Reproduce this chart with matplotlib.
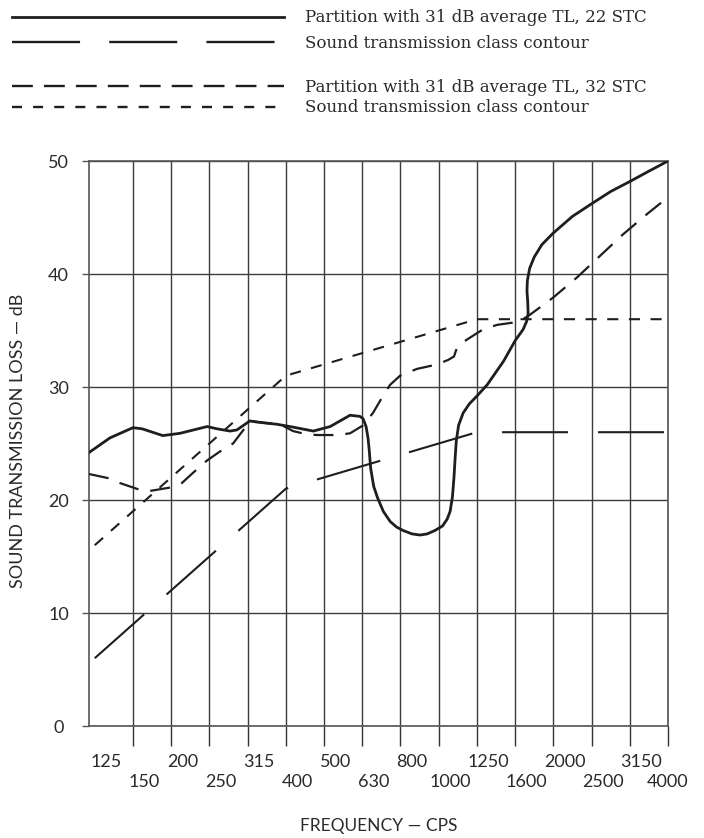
import matplotlib
matplotlib.use("Agg")
import matplotlib.pyplot as plt
from matplotlib.lines import Line2D

# 1/3-octave bands (old style labels), plotted at equal spacing
bands = ["125", "150", "200", "250", "315", "400", "500", "630",
         "800", "1000", "1250", "1600", "2000", "2500", "3150", "4000"]

# STC reference contours, dB per band
stc22 = [6, 9, 12, 15, 18, 21, 22, 23, 24, 25, 26, 26, 26, 26, 26, 26]
stc32 = [16, 19, 22, 25, 28, 31, 32, 33, 34, 35, 36, 36, 36, 36, 36, 36]

p22_x = [-0.15, 0.4, 1.0, 1.24, 1.78, 2.23, 2.94, 3.2, 3.54, 3.72, 4.06, 4.24,
         4.77, 5.11, 5.72, 6.16, 6.68, 6.94, 7.02, 7.1, 7.15, 7.18, 7.22, 7.3,
         7.4, 7.55, 7.73, 7.9, 8.07, 8.3, 8.51, 8.7, 8.9, 9.1, 9.22, 9.3,
         9.36, 9.4, 9.43, 9.46, 9.52, 9.64, 9.8, 10.0, 10.27, 10.7, 11.0, 11.21,
         11.3, 11.34, 11.33, 11.31, 11.32, 11.38, 11.5, 11.7, 11.99, 12.5, 13.04,
         13.5, 14.01, 14.5, 15.0]
p22_y = [24.2, 25.5, 26.4, 26.3, 25.7, 25.9, 26.5, 26.3, 26.1, 26.2, 27.0, 26.9,
         26.7, 26.5, 26.1, 26.5, 27.5, 27.4, 27.2, 26.5, 25.5, 24.5, 22.8, 21.2,
         20.2, 19.0, 18.1, 17.6, 17.3, 17.0, 16.9, 17.0, 17.3, 17.7, 18.3, 19.0,
         20.3, 22.0, 23.7, 25.2, 26.6, 27.7, 28.5, 29.2, 30.2, 32.3, 34.1, 35.1,
         35.8, 36.5, 37.5, 38.5, 39.4, 40.5, 41.5, 42.6, 43.6, 45.1, 46.3,
         47.3, 48.2, 49.1, 50.0]

p32_x = [-0.15, 0.4, 0.66, 1.18, 1.44, 1.97, 2.28, 2.57, 2.94, 3.28, 3.62, 3.98,
         4.06, 4.5, 4.85, 5.19, 5.56, 5.84, 6.34, 6.68, 7.02, 7.28, 7.54, 7.73,
         7.99, 8.43, 8.96, 9.25, 9.4, 9.45, 9.5, 9.74, 10.16, 10.53, 10.95, 11.31,
         11.99, 12.62, 13.22, 13.82, 14.45, 15.0]
p32_y = [22.3, 21.9, 21.5, 20.9, 20.8, 21.1, 21.5, 22.4, 23.5, 24.3, 25.0, 26.6,
         27.0, 26.8, 26.7, 26.1, 25.8, 25.75, 25.75, 25.9, 26.6, 27.7, 29.2, 30.2,
         31.0, 31.6, 32.0, 32.4, 32.7, 33.2, 33.6, 34.2, 35.1, 35.5, 35.7, 36.2,
         37.9, 39.7, 41.6, 43.5, 45.3, 46.8]

legend_labels = ["Partition with 31 dB average TL, 22 STC",
                 "Sound transmission class contour",
                 "Partition with 31 dB average TL, 32 STC",
                 "Sound transmission class contour"]

plt.rcParams['lines.scale_dashes'] = False
sans = ['Lato', 'DejaVu Sans']
serif = ['DejaVu Serif']

W, H = 704, 838
fig = plt.figure(figsize=(W / 100, H / 100), dpi=100)
ax = fig.add_axes([89 / W, 1 - 726 / H, (668 - 89) / W, (726 - 161) / H])

ink = '#1e1e1e'
txt = '#2a2a2a'
long_dash = (0, (47.5, 21.6))
med_dash = (0, (14.4, 8.6))
short_dash = (0, (8.0, 7.6))

idx = list(range(len(bands)))
ax.plot(p22_x, p22_y, color=ink, lw=2.0, solid_joinstyle='round', zorder=4)
ax.plot(idx, stc22, color=ink, lw=1.5, linestyle=long_dash, zorder=3)
ax.plot(p32_x, p32_y, color=ink, lw=1.6, linestyle=med_dash, zorder=3)
ax.plot(idx, stc32, color=ink, lw=1.5, linestyle=short_dash, zorder=3)

ax.set_xlim(-0.15, 15)
ax.set_ylim(0, 50)

ax.set_xticks(range(1, 16))
ax.set_xticklabels([])
ax.set_yticks(range(0, 51, 10))
ax.tick_params(axis='x', direction='out', length=14.5, width=1.0, color='#333333')
ax.tick_params(axis='y', direction='out', length=5, width=1.0, color='#555555',
               pad=17, labelsize=13)
for lab in ax.get_yticklabels():
    lab.set_horizontalalignment('center')
    lab.set_family(sans)
    lab.set_color(txt)

ax.grid(True, color='#3c3c3c', lw=1.0)
ax.set_axisbelow(True)
for s in ax.spines.values():
    s.set_color('#555555')
    s.set_linewidth(1.2)

# staggered band labels
for i, b in enumerate(bands):
    dy = -26 if i % 2 == 0 else -40.5
    ax.annotate(b, xy=(min(i + 0.3, 15), 0), xycoords=('data', 'axes fraction'),
                xytext=(0, dy), textcoords='offset points', ha='center', va='center',
                fontsize=13, family=sans, color=txt)

ax.annotate("FREQUENCY — CPS", xy=(0.5, 0), xycoords='axes fraction',
            xytext=(0, -72), textcoords='offset points', ha='center', va='center',
            fontsize=12.5, family=sans, color=txt)
fig.text(18 / W, 1 - 441 / H, "SOUND TRANSMISSION LOSS — dB", rotation=90,
         ha='center', va='center', fontsize=13, family=sans, color=txt)

# legend block at the top
leg_y = [17, 42, 86, 107]
leg_styles = [('-', 2.0), ((0, (49, 21)), 1.7), ((0, (15, 8)), 1.7), ((0, (7.2, 8)), 1.7)]
for y, (ls, lw), text in zip(leg_y, leg_styles, legend_labels):
    fig.add_artist(Line2D([12 / W, 284 / W], [1 - y / H, 1 - y / H],
                          transform=fig.transFigure, color=ink, lw=lw, linestyle=ls))
    fig.text(305 / W, 1 - (y + 1) / H, text, ha='left', va='center',
             fontsize=12, family=serif, color=txt)

fig.savefig("out.png", dpi=100)
